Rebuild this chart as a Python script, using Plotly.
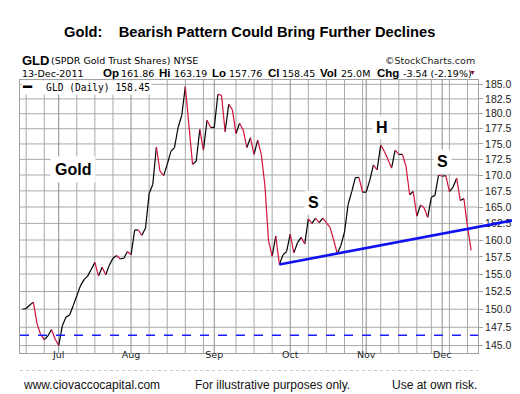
import math
import pandas as pd
import plotly.graph_objects as go

# ---------------- data ----------------
holidays = ["2011-07-04", "2011-09-05", "2011-11-24"]
dates = pd.bdate_range("2011-06-17", "2011-12-13", freq="C", holidays=holidays)

close_jun = [150.0, 150.1, 150.6, 151.0, 148.0, 146.5, 145.8, 146.3, 147.2, 145.9]
close_jul = [145.0, 147.7, 148.9, 149.2, 150.5, 151.9, 153.3, 154.2, 154.7, 155.7,
             156.7, 154.7, 156.0, 154.9, 156.3, 157.3, 157.7, 157.2, 157.3, 158.3]
close_aug = [157.8, 161.5, 161.5, 160.7, 161.8, 167.1, 168.5, 174.5, 170.6, 169.9,
             171.7, 173.8, 174.4, 177.7, 179.7, 184.6, 178.0, 171.7, 172.2, 177.4,
             174.0, 178.9, 177.7]
close_sep = [177.7, 183.3, 183.1, 177.0, 181.6, 180.7, 176.7, 178.4, 177.3, 174.4,
             176.0, 173.3, 175.6, 173.3, 168.3, 159.9, 157.6, 160.6, 156.4, 157.8,
             158.3]
close_oct = [160.9, 158.1, 159.6, 160.4, 159.4, 163.2, 162.5, 163.3, 162.6, 163.3,
             162.6, 161.9, 160.0, 158.0, 159.2, 161.2, 165.4, 167.4, 169.6, 169.6,
             167.3]
close_nov = [167.3, 169.2, 171.6, 170.8, 174.8, 173.8, 172.5, 171.1, 174.0, 173.3,
             173.3, 171.4, 166.9, 167.4, 163.6, 165.3, 164.9, 163.4, 166.5, 166.8,
             170.0]
close_dec = [169.8, 169.9, 167.4, 168.1, 169.5, 166.0, 166.3, 162.0, 158.45]
closes = close_jun + close_jul + close_aug + close_sep + close_oct + close_nov + close_dec

month_labels = ["Jul", "Aug", "Sep", "Oct", "Nov", "Dec"]
y_tick_labels = ["145.0", "147.5", "150.0", "152.5", "155.0", "157.5", "160.0", "162.5",
                 "165.0", "167.5", "170.0", "172.5", "175.0", "177.5", "180.0", "182.5", "185.0"]
neckline_dates = ["2011-09-28", "2011-10-20"]
support_level = 146.4

title_text = "Gold:&nbsp;&nbsp;&nbsp; Bearish Pattern Could Bring Further Declines"
quote_labels = ["Op", "Hi", "Lo", "Cl", "Vol", "Chg"]
quote_values = ["161.86", "163.19", "157.76", "158.45", "25.0M", "-3.54 (-2.19%)"]
footer_texts = ["www.ciovaccocapital.com", "For illustrative purposes only.", "Use at own risk."]

# ---------------- geometry helpers ----------------
W, H = 520, 394
ML, MR, MT, MB = 12, 50, 72, 49
PW, PH = W - ML - MR, H - MT - MB
XMIN, XMAX = -0.7, len(closes) + 0.9
YMIN, YMAX = 144.0, 185.75
L0, L1 = math.log10(YMIN), math.log10(YMAX)


def px(X):
    return (X - ML) / PW


def py(Y):
    return (H - MB - Y) / PH


def xp_idx(i):
    return (i - XMIN) / (XMAX - XMIN)


def yp_val(v):
    return (math.log10(v) - L0) / (L1 - L0)


date_str = [d.strftime("%Y-%m-%d") for d in dates]

# up / down coloured segments
up_x, up_y, dn_x, dn_y = [], [], [], []
for i in range(1, len(closes)):
    if closes[i] < closes[i - 1]:
        dn_x += [i - 1, i, None]
        dn_y += [closes[i - 1], closes[i], None]
    else:
        up_x += [i - 1, i, None]
        up_y += [closes[i - 1], closes[i], None]

month_idx = [i for i in range(1, len(dates)) if dates[i].month != dates[i - 1].month]
week_idx = [i for i in range(len(dates)) if dates[i].dayofweek == 0 and i not in month_idx]

# grid drawn as line traces (one trace per family, separated by None)
gx_w, gy_w = [], []
for wi in week_idx:
    gx_w += [wi, wi, None]
    gy_w += [YMIN, YMAX, None]
gx_h, gy_h = [], []
for t in y_tick_labels:
    gx_h += [XMIN, XMAX, None]
    gy_h += [float(t), float(t), None]
gx_m, gy_m = [], []
for mi in month_idx:
    gx_m += [mi, mi, None]
    gy_m += [YMIN, YMAX, None]

fig = go.Figure()
fig.add_trace(go.Scatter(x=gx_w, y=gy_w, mode="lines", line=dict(color="#a9a9a9", width=1),
                         hoverinfo="skip", showlegend=False))
fig.add_trace(go.Scatter(x=gx_h, y=gy_h, mode="lines", line=dict(color="#a9a9a9", width=1),
                         hoverinfo="skip", showlegend=False))
fig.add_trace(go.Scatter(x=gx_m, y=gy_m, mode="lines", line=dict(color="#8c8c8c", width=1),
                         hoverinfo="skip", showlegend=False))
fig.add_trace(go.Scatter(x=up_x, y=up_y, mode="lines", line=dict(color="#000000", width=1.2),
                         hoverinfo="skip", showlegend=False))
fig.add_trace(go.Scatter(x=dn_x, y=dn_y, mode="lines", line=dict(color="#d4103c", width=1.2),
                         hoverinfo="skip", showlegend=False))

# neckline from the two lows, extended past the right edge
n0 = date_str.index(neckline_dates[0])
n1 = date_str.index(neckline_dates[1])
x0p, y0p = xp_idx(n0), yp_val(closes[n0])
x1p, y1p = xp_idx(n1), yp_val(closes[n1])
x_end = px(516)
y_end = y0p + (y1p - y0p) * (x_end - x0p) / (x1p - x0p)

shapes = [
    dict(type="line", xref="paper", yref="paper", x0=0, x1=1,
         y0=yp_val(support_level), y1=yp_val(support_level),
         line=dict(color="#1a1aff", width=1.6, dash="dash"), layer="above"),
    dict(type="line", xref="paper", yref="paper", x0=x0p, y0=y0p, x1=x_end, y1=y_end,
         line=dict(color="#1010f0", width=2.6), layer="above"),
    dict(type="line", xref="paper", yref="paper", x0=0, x1=1, y0=py(362.5), y1=py(362.5),
         line=dict(color="#c8c8c8", width=1, dash="dot"), layer="above"),
]

ann = []
ARIAL = "Arial, Liberation Sans, sans-serif"
DEJ = "DejaVu Sans, Verdana, sans-serif"


def add(text, X, Y, size, family=ARIAL, color="#000", xanchor="left", bg=None, pad=1):
    d = dict(text=text, x=px(X), y=py(Y), xref="paper", yref="paper", showarrow=False,
             xanchor=xanchor, yanchor="middle", font=dict(size=size, family=family, color=color),
             borderpad=pad)
    if bg:
        d["bgcolor"] = bg
    ann.append(d)


add("<b>" + title_text + "</b>", 241, 24, 14.7, xanchor="center")
add("<b>GLD</b>", 12, 52, 13)
add("(SPDR Gold Trust Shares) NYSE", 41, 52, 9.5, family=DEJ)
add("©StockCharts.com", 469, 52, 9.5, family=DEJ, color="#222", xanchor="right")
add("13-Dec-2011", 12, 65, 9.5, family=DEJ)
label_x = [93, 149, 202, 258, 310, 367]
value_x = [111, 164, 219, 272, 331, 393]
for lab, val, lx, vx in zip(quote_labels, quote_values, label_x, value_x):
    add("<b>" + lab + "</b>", lx, 65, 11.5)
    add(val, vx, 65, 9.5, family=DEJ)
add("▼", 464, 64, 7, color="#8b1030", xanchor="center", pad=0)

# legend box
add("&nbsp;&nbsp;&nbsp;&nbsp;GLD (Daily) " + "%.2f" % closes[-1], 13, 79, 9.6,
    family="DejaVu Sans Mono, monospace", bg="white", pad=1)
add("━", 19.5, 79, 15, family="DejaVu Sans Mono, monospace", xanchor="center", pad=0)

# chart labels
add("<b>Gold</b>", 65, 161, 16, xanchor="center", bg="white", pad=4)
add("<b>S</b>", 305, 194, 16, xanchor="center", bg="white", pad=3)
add("<b>H</b>", 374, 119, 16, xanchor="center", bg="white", pad=3)
add("<b>S</b>", 434, 153, 16, xanchor="center", bg="white", pad=3)

# footer
add(footer_texts[0], 13, 377, 12, color="#111")
add(footer_texts[1], 185, 377, 12, color="#111")
add(footer_texts[2], 382, 377, 12, color="#111")

fig.update_layout(
    width=W, height=H,
    margin=dict(l=ML, r=MR, t=MT, b=MB),
    paper_bgcolor="white", plot_bgcolor="white",
    shapes=shapes, annotations=ann, showlegend=False,
    xaxis=dict(
        range=[XMIN, XMAX], tickmode="array", tickvals=month_idx, ticktext=month_labels,
        showgrid=False, zeroline=False,
        showline=True, linecolor="#a0a0a0", mirror=True, ticks="",
        ticklabelstandoff=-7,
        tickfont=dict(size=9.5, family=DEJ, color="#222"),
    ),
    yaxis=dict(
        type="log", range=[L0, L1], side="right",
        tickmode="array", tickvals=[float(t) for t in y_tick_labels], ticktext=y_tick_labels,
        showgrid=False, zeroline=False,
        showline=True, linecolor="#a0a0a0", mirror=True,
        ticks="outside", ticklen=4, tickcolor="#a0a0a0",
        tickfont=dict(size=10.5, family=ARIAL, color="#222"),
    ),
)

fig.write_html("out.html")
